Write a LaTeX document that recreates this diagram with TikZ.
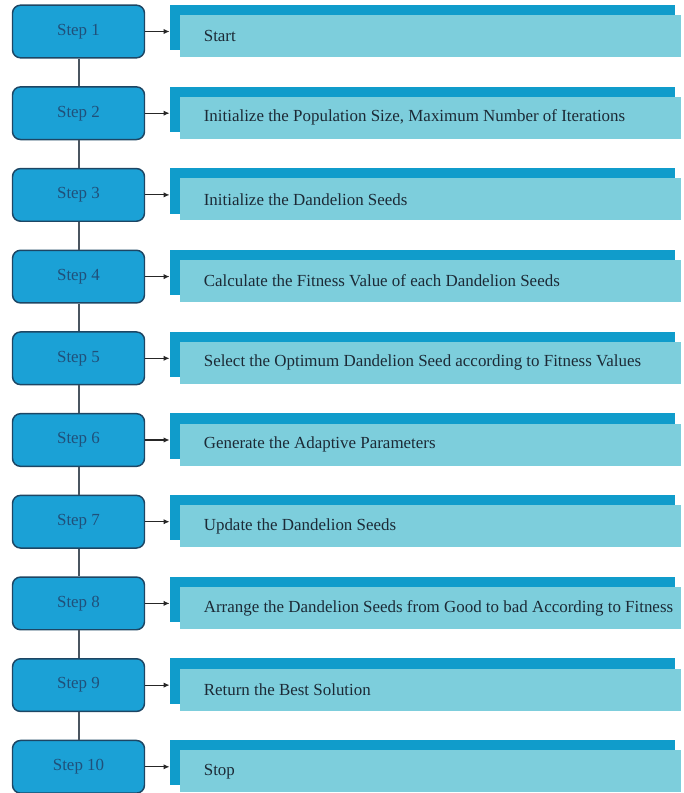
\documentclass[tikz,border=0pt]{standalone}
\usepackage{tikz}
\usepackage{fontspec}
\setmainfont{Liberation Serif}
\usetikzlibrary{arrows.meta}

\definecolor{stepblue}{HTML}{1BA1D6}
\definecolor{stepline}{HTML}{1D4664}
\definecolor{backblue}{HTML}{109CCB}
\definecolor{frontblue}{HTML}{7DCEDC}
\definecolor{steptext}{HTML}{20507A}
\definecolor{bodytext}{HTML}{1C2A36}
\definecolor{linkgray}{HTML}{4A5560}

% text of a bar, left aligned, may run past its box
\newcommand{\bartxt}[1]{\makebox[340pt][l]{#1}}

\tikzset{
  stepbox/.style={draw=stepline, line width=1.1pt, fill=stepblue, rounded corners=6pt,
    minimum width=99pt, minimum height=39.5pt, inner sep=0pt,
    font=\fontsize{12.7}{14}\selectfont, text=steptext},
  backbar/.style={fill=backblue, minimum width=379pt, minimum height=34pt, inner sep=0pt},
  frontbar/.style={fill=frontblue, minimum width=376pt, minimum height=31.5pt, inner sep=0pt,
    font=\fontsize{12.7}{14}\selectfont, text=bodytext},
  link/.style={draw=linkgray, line width=1.5pt},
  pointer/.style={draw=black!85, line width=0.8pt, -{Latex[length=4.5pt,width=4pt]}}
}

\begin{document}
\begin{tikzpicture}[x=0.75pt,y=-0.75pt]

        \useasboundingbox (0,0) rectangle (683,793);

        % step boxes
        \begin{scope}[every node/.style={stepbox}]
          \node (s1)  at (78.5,31.5)  {Step 1};
          \node (s2)  at (78.5,113.2) {Step 2};
          \node (s3)  at (78.5,194.9) {Step 3};
          \node (s4)  at (78.5,276.6) {Step 4};
          \node (s5)  at (78.5,358.3) {Step 5};
          \node (s6)  at (78.5,440.0) {Step 6};
          \node (s7)  at (78.5,521.7) {Step 7};
          \node (s8)  at (78.5,603.4) {Step 8};
          \node (s9)  at (78.5,685.1) {Step 9};
          \node (s10) at (78.5,766.8) {Step 10};
        \end{scope}

        % dark bars behind the texts
        \begin{scope}[every node/.style={backbar}]
          \node (b1)  at (422.5,27.5)  {};
          \node (b2)  at (422.5,109.2) {};
          \node (b3)  at (422.5,190.9) {};
          \node (b4)  at (422.5,272.6) {};
          \node (b5)  at (422.5,354.3) {};
          \node (b6)  at (422.5,436.0) {};
          \node (b7)  at (422.5,517.7) {};
          \node (b8)  at (422.5,599.4) {};
          \node (b9)  at (422.5,681.1) {};
          \node (b10) at (422.5,762.8) {};
        \end{scope}

        % light bars with the texts
        \begin{scope}[every node/.style={frontbar}]
          \node (t1)  at (430.5,36.0)  {\bartxt{Start}};
          \node (t2)  at (430.5,117.7) {\bartxt{Initialize the Population Size, Maximum Number of Iterations}};
          \node (t3)  at (430.5,199.4) {\bartxt{Initialize the Dandelion Seeds}};
          \node (t4)  at (430.5,281.1) {\bartxt{Calculate the Fitness Value of each Dandelion Seeds}};
          \node (t5)  at (430.5,362.8) {\bartxt{Select the Optimum Dandelion Seed according to Fitness Values}};
          \node (t6)  at (430.5,444.5) {\bartxt{Generate the Adaptive Parameters}};
          \node (t7)  at (430.5,526.2) {\bartxt{Update the Dandelion Seeds}};
          \node (t8)  at (430.5,607.9) {\bartxt{Arrange the Dandelion Seeds from Good to bad According to Fitness}};
          \node (t9)  at (430.5,689.6) {\bartxt{Return the Best Solution}};
          \node (t10) at (430.5,771.3) {\bartxt{Stop}};
        \end{scope}

        % vertical links
        \path[link] (s1) -- (s2);
        \path[link] (s2) -- (s3);
        \path[link] (s3) -- (s4);
        \path[link] (s4) -- (s5);
        \path[link] (s5) -- (s6);
        \path[link] (s6) -- (s7);
        \path[link] (s7) -- (s8);
        \path[link] (s8) -- (s9);
        \path[link] (s9) -- (s10);

        % arrows to the bars
        \path[pointer] (s1.east)  -- (s1.east -| b1.west);
        \path[pointer] (s2.east)  -- (s2.east -| b2.west);
        \path[pointer] (s3.east)  -- (s3.east -| b3.west);
        \path[pointer] (s4.east)  -- (s4.east -| b4.west);
        \path[pointer] (s5.east)  -- (s5.east -| b5.west);
        \path[pointer] (s6.east)  -- (s6.east -| b6.west);
        \path[pointer] (s7.east)  -- (s7.east -| b7.west);
        \path[pointer] (s8.east)  -- (s8.east -| b8.west);
        \path[pointer] (s9.east)  -- (s9.east -| b9.west);
        \path[pointer] (s10.east) -- (s10.east -| b10.west);

      \end{tikzpicture}
\end{document}
